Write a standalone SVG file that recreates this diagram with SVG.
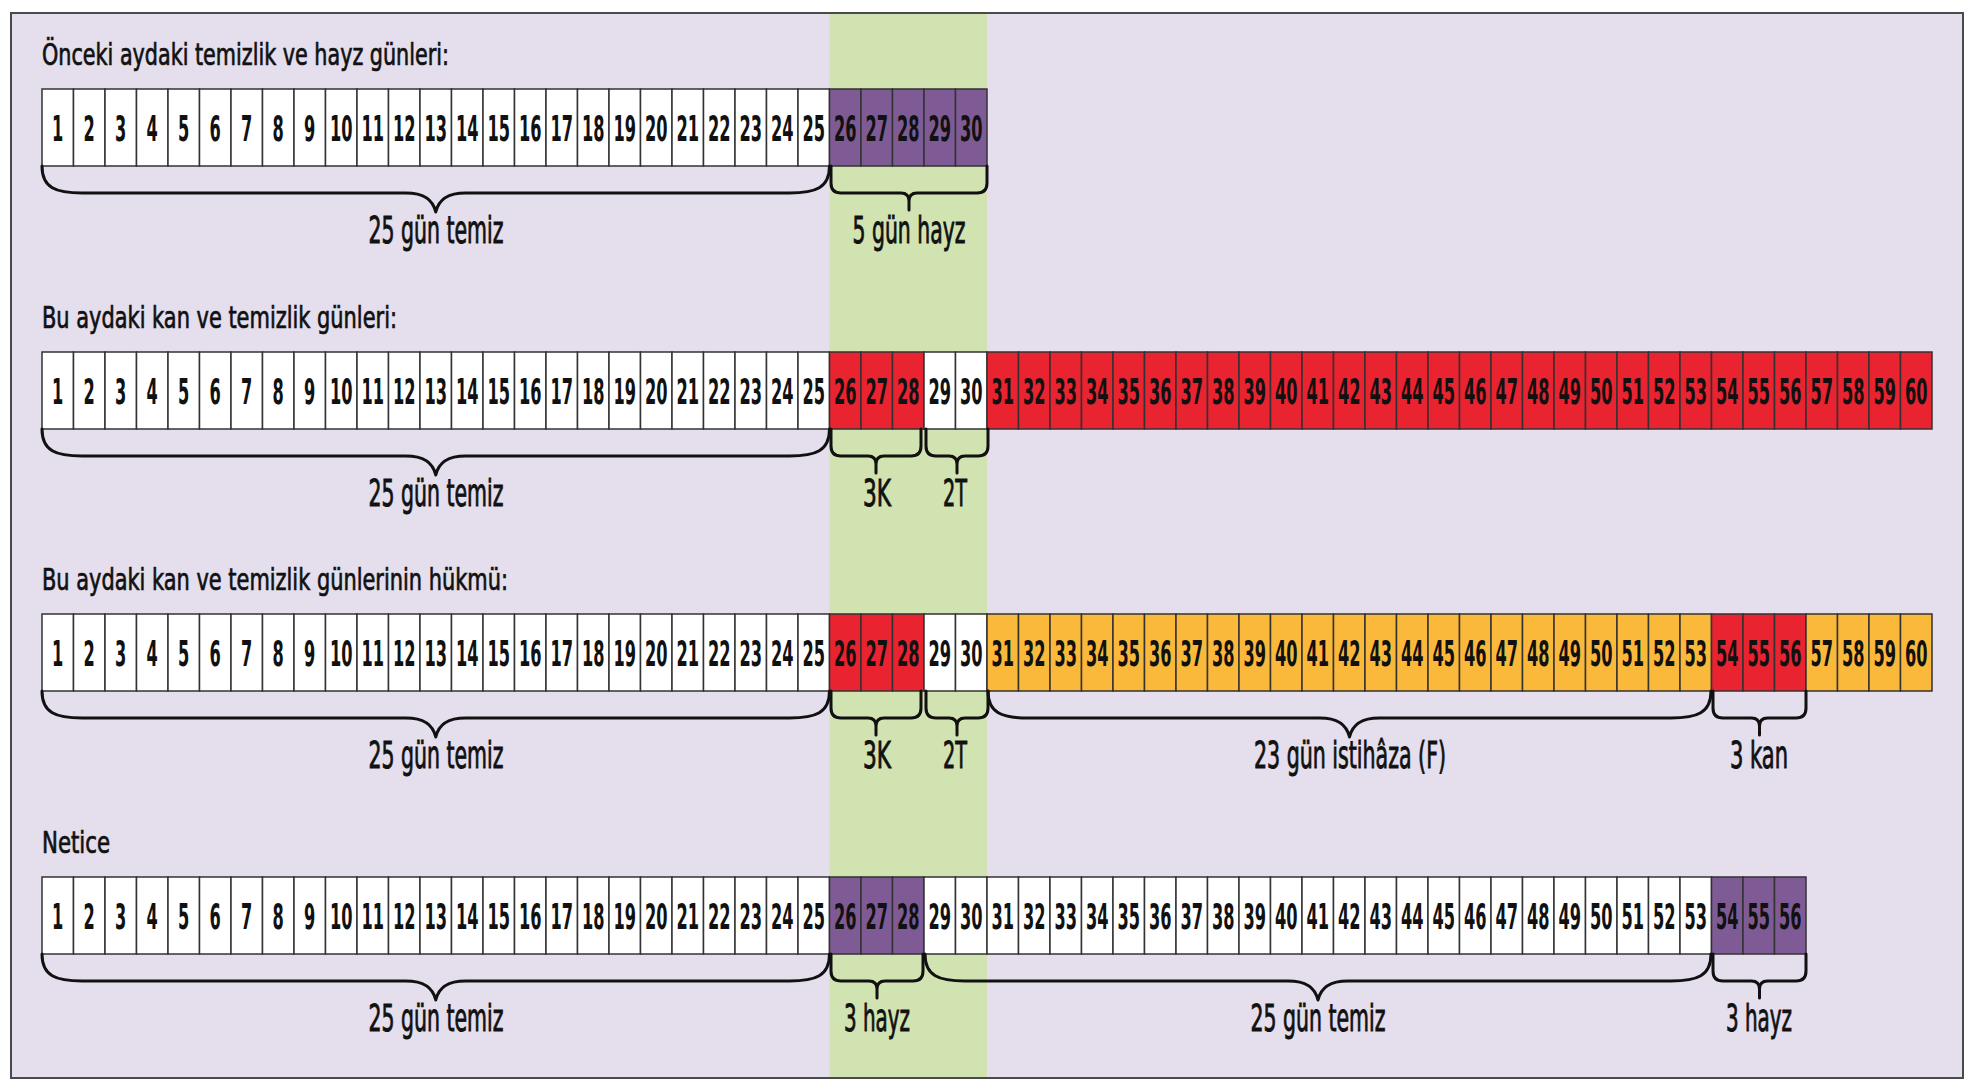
<svg xmlns="http://www.w3.org/2000/svg" width="1972" height="1088" viewBox="0 0 1972 1088">
<style>
text{font-family:'DejaVu Sans Condensed','DejaVu Sans',sans-serif;font-stretch:condensed;fill:#111}
.n{font-size:18px;text-anchor:middle;font-weight:bold}
.y1{transform:matrix(1,0,0,2,0,-141)}
.y2{transform:matrix(1,0,0,2,0,-404)}
.y3{transform:matrix(1,0,0,2,0,-666)}
.y4{transform:matrix(1,0,0,2,0,-929)}
.t{font-size:30px;stroke:#111;stroke-width:0.7}
.l{font-size:38px;text-anchor:middle;stroke:#111;stroke-width:0.9}
rect.c{stroke:#333;stroke-width:1.5}
.w{fill:#fff}.p{fill:#7f5b95}.r{fill:#e92330}.o{fill:#fbb93b}
.b{fill:none;stroke:#111;stroke-width:3;stroke-linecap:round;stroke-linejoin:round}
</style>
<rect x="11" y="13" width="1952" height="1065" fill="#e4deed"/>
<rect x="829.5" y="13" width="157.5" height="1065" fill="#d2e3b2"/>
<rect x="11" y="13" width="1952" height="1065" fill="none" stroke="#4a4a4a" stroke-width="2"/>
<g id="titles">
<text class="t" x="42" y="65" textLength="407" lengthAdjust="spacingAndGlyphs">Önceki aydaki temizlik ve hayz günleri:</text>
<text class="t" x="42" y="328" textLength="355" lengthAdjust="spacingAndGlyphs">Bu aydaki kan ve temizlik günleri:</text>
<text class="t" x="42" y="590" textLength="466" lengthAdjust="spacingAndGlyphs">Bu aydaki kan ve temizlik günlerinin hükmü:</text>
<text class="t" x="42" y="853" textLength="68" lengthAdjust="spacingAndGlyphs">Netice</text>
</g>
<g id="row1">
<g id="r1c1"><rect class="c w" x="42" y="89" width="31.5" height="77"/><text class="n y1" x="57.75" y="141">1</text></g>
<g id="r1c2"><rect class="c w" x="73.5" y="89" width="31.5" height="77"/><text class="n y1" x="89.25" y="141">2</text></g>
<g id="r1c3"><rect class="c w" x="105" y="89" width="31.5" height="77"/><text class="n y1" x="120.75" y="141">3</text></g>
<g id="r1c4"><rect class="c w" x="136.5" y="89" width="31.5" height="77"/><text class="n y1" x="152.25" y="141">4</text></g>
<g id="r1c5"><rect class="c w" x="168" y="89" width="31.5" height="77"/><text class="n y1" x="183.75" y="141">5</text></g>
<g id="r1c6"><rect class="c w" x="199.5" y="89" width="31.5" height="77"/><text class="n y1" x="215.25" y="141">6</text></g>
<g id="r1c7"><rect class="c w" x="231" y="89" width="31.5" height="77"/><text class="n y1" x="246.75" y="141">7</text></g>
<g id="r1c8"><rect class="c w" x="262.5" y="89" width="31.5" height="77"/><text class="n y1" x="278.25" y="141">8</text></g>
<g id="r1c9"><rect class="c w" x="294" y="89" width="31.5" height="77"/><text class="n y1" x="309.75" y="141">9</text></g>
<g id="r1c10"><rect class="c w" x="325.5" y="89" width="31.5" height="77"/><text class="n y1" x="341.25" y="141">10</text></g>
<g id="r1c11"><rect class="c w" x="357" y="89" width="31.5" height="77"/><text class="n y1" x="372.75" y="141">11</text></g>
<g id="r1c12"><rect class="c w" x="388.5" y="89" width="31.5" height="77"/><text class="n y1" x="404.25" y="141">12</text></g>
<g id="r1c13"><rect class="c w" x="420" y="89" width="31.5" height="77"/><text class="n y1" x="435.75" y="141">13</text></g>
<g id="r1c14"><rect class="c w" x="451.5" y="89" width="31.5" height="77"/><text class="n y1" x="467.25" y="141">14</text></g>
<g id="r1c15"><rect class="c w" x="483" y="89" width="31.5" height="77"/><text class="n y1" x="498.75" y="141">15</text></g>
<g id="r1c16"><rect class="c w" x="514.5" y="89" width="31.5" height="77"/><text class="n y1" x="530.25" y="141">16</text></g>
<g id="r1c17"><rect class="c w" x="546" y="89" width="31.5" height="77"/><text class="n y1" x="561.75" y="141">17</text></g>
<g id="r1c18"><rect class="c w" x="577.5" y="89" width="31.5" height="77"/><text class="n y1" x="593.25" y="141">18</text></g>
<g id="r1c19"><rect class="c w" x="609" y="89" width="31.5" height="77"/><text class="n y1" x="624.75" y="141">19</text></g>
<g id="r1c20"><rect class="c w" x="640.5" y="89" width="31.5" height="77"/><text class="n y1" x="656.25" y="141">20</text></g>
<g id="r1c21"><rect class="c w" x="672" y="89" width="31.5" height="77"/><text class="n y1" x="687.75" y="141">21</text></g>
<g id="r1c22"><rect class="c w" x="703.5" y="89" width="31.5" height="77"/><text class="n y1" x="719.25" y="141">22</text></g>
<g id="r1c23"><rect class="c w" x="735" y="89" width="31.5" height="77"/><text class="n y1" x="750.75" y="141">23</text></g>
<g id="r1c24"><rect class="c w" x="766.5" y="89" width="31.5" height="77"/><text class="n y1" x="782.25" y="141">24</text></g>
<g id="r1c25"><rect class="c w" x="798" y="89" width="31.5" height="77"/><text class="n y1" x="813.75" y="141">25</text></g>
<g id="r1c26"><rect class="c p" x="829.5" y="89" width="31.5" height="77"/><text class="n y1" x="845.25" y="141">26</text></g>
<g id="r1c27"><rect class="c p" x="861" y="89" width="31.5" height="77"/><text class="n y1" x="876.75" y="141">27</text></g>
<g id="r1c28"><rect class="c p" x="892.5" y="89" width="31.5" height="77"/><text class="n y1" x="908.25" y="141">28</text></g>
<g id="r1c29"><rect class="c p" x="924" y="89" width="31.5" height="77"/><text class="n y1" x="939.75" y="141">29</text></g>
<g id="r1c30"><rect class="c p" x="955.5" y="89" width="31.5" height="77"/><text class="n y1" x="971.25" y="141">30</text></g>
</g>
<g id="row2">
<g id="r2c1"><rect class="c w" x="42" y="352" width="31.5" height="77"/><text class="n y2" x="57.75" y="404">1</text></g>
<g id="r2c2"><rect class="c w" x="73.5" y="352" width="31.5" height="77"/><text class="n y2" x="89.25" y="404">2</text></g>
<g id="r2c3"><rect class="c w" x="105" y="352" width="31.5" height="77"/><text class="n y2" x="120.75" y="404">3</text></g>
<g id="r2c4"><rect class="c w" x="136.5" y="352" width="31.5" height="77"/><text class="n y2" x="152.25" y="404">4</text></g>
<g id="r2c5"><rect class="c w" x="168" y="352" width="31.5" height="77"/><text class="n y2" x="183.75" y="404">5</text></g>
<g id="r2c6"><rect class="c w" x="199.5" y="352" width="31.5" height="77"/><text class="n y2" x="215.25" y="404">6</text></g>
<g id="r2c7"><rect class="c w" x="231" y="352" width="31.5" height="77"/><text class="n y2" x="246.75" y="404">7</text></g>
<g id="r2c8"><rect class="c w" x="262.5" y="352" width="31.5" height="77"/><text class="n y2" x="278.25" y="404">8</text></g>
<g id="r2c9"><rect class="c w" x="294" y="352" width="31.5" height="77"/><text class="n y2" x="309.75" y="404">9</text></g>
<g id="r2c10"><rect class="c w" x="325.5" y="352" width="31.5" height="77"/><text class="n y2" x="341.25" y="404">10</text></g>
<g id="r2c11"><rect class="c w" x="357" y="352" width="31.5" height="77"/><text class="n y2" x="372.75" y="404">11</text></g>
<g id="r2c12"><rect class="c w" x="388.5" y="352" width="31.5" height="77"/><text class="n y2" x="404.25" y="404">12</text></g>
<g id="r2c13"><rect class="c w" x="420" y="352" width="31.5" height="77"/><text class="n y2" x="435.75" y="404">13</text></g>
<g id="r2c14"><rect class="c w" x="451.5" y="352" width="31.5" height="77"/><text class="n y2" x="467.25" y="404">14</text></g>
<g id="r2c15"><rect class="c w" x="483" y="352" width="31.5" height="77"/><text class="n y2" x="498.75" y="404">15</text></g>
<g id="r2c16"><rect class="c w" x="514.5" y="352" width="31.5" height="77"/><text class="n y2" x="530.25" y="404">16</text></g>
<g id="r2c17"><rect class="c w" x="546" y="352" width="31.5" height="77"/><text class="n y2" x="561.75" y="404">17</text></g>
<g id="r2c18"><rect class="c w" x="577.5" y="352" width="31.5" height="77"/><text class="n y2" x="593.25" y="404">18</text></g>
<g id="r2c19"><rect class="c w" x="609" y="352" width="31.5" height="77"/><text class="n y2" x="624.75" y="404">19</text></g>
<g id="r2c20"><rect class="c w" x="640.5" y="352" width="31.5" height="77"/><text class="n y2" x="656.25" y="404">20</text></g>
<g id="r2c21"><rect class="c w" x="672" y="352" width="31.5" height="77"/><text class="n y2" x="687.75" y="404">21</text></g>
<g id="r2c22"><rect class="c w" x="703.5" y="352" width="31.5" height="77"/><text class="n y2" x="719.25" y="404">22</text></g>
<g id="r2c23"><rect class="c w" x="735" y="352" width="31.5" height="77"/><text class="n y2" x="750.75" y="404">23</text></g>
<g id="r2c24"><rect class="c w" x="766.5" y="352" width="31.5" height="77"/><text class="n y2" x="782.25" y="404">24</text></g>
<g id="r2c25"><rect class="c w" x="798" y="352" width="31.5" height="77"/><text class="n y2" x="813.75" y="404">25</text></g>
<g id="r2c26"><rect class="c r" x="829.5" y="352" width="31.5" height="77"/><text class="n y2" x="845.25" y="404">26</text></g>
<g id="r2c27"><rect class="c r" x="861" y="352" width="31.5" height="77"/><text class="n y2" x="876.75" y="404">27</text></g>
<g id="r2c28"><rect class="c r" x="892.5" y="352" width="31.5" height="77"/><text class="n y2" x="908.25" y="404">28</text></g>
<g id="r2c29"><rect class="c w" x="924" y="352" width="31.5" height="77"/><text class="n y2" x="939.75" y="404">29</text></g>
<g id="r2c30"><rect class="c w" x="955.5" y="352" width="31.5" height="77"/><text class="n y2" x="971.25" y="404">30</text></g>
<g id="r2c31"><rect class="c r" x="987" y="352" width="31.5" height="77"/><text class="n y2" x="1002.75" y="404">31</text></g>
<g id="r2c32"><rect class="c r" x="1018.5" y="352" width="31.5" height="77"/><text class="n y2" x="1034.25" y="404">32</text></g>
<g id="r2c33"><rect class="c r" x="1050" y="352" width="31.5" height="77"/><text class="n y2" x="1065.75" y="404">33</text></g>
<g id="r2c34"><rect class="c r" x="1081.5" y="352" width="31.5" height="77"/><text class="n y2" x="1097.25" y="404">34</text></g>
<g id="r2c35"><rect class="c r" x="1113" y="352" width="31.5" height="77"/><text class="n y2" x="1128.75" y="404">35</text></g>
<g id="r2c36"><rect class="c r" x="1144.5" y="352" width="31.5" height="77"/><text class="n y2" x="1160.25" y="404">36</text></g>
<g id="r2c37"><rect class="c r" x="1176" y="352" width="31.5" height="77"/><text class="n y2" x="1191.75" y="404">37</text></g>
<g id="r2c38"><rect class="c r" x="1207.5" y="352" width="31.5" height="77"/><text class="n y2" x="1223.25" y="404">38</text></g>
<g id="r2c39"><rect class="c r" x="1239" y="352" width="31.5" height="77"/><text class="n y2" x="1254.75" y="404">39</text></g>
<g id="r2c40"><rect class="c r" x="1270.5" y="352" width="31.5" height="77"/><text class="n y2" x="1286.25" y="404">40</text></g>
<g id="r2c41"><rect class="c r" x="1302" y="352" width="31.5" height="77"/><text class="n y2" x="1317.75" y="404">41</text></g>
<g id="r2c42"><rect class="c r" x="1333.5" y="352" width="31.5" height="77"/><text class="n y2" x="1349.25" y="404">42</text></g>
<g id="r2c43"><rect class="c r" x="1365" y="352" width="31.5" height="77"/><text class="n y2" x="1380.75" y="404">43</text></g>
<g id="r2c44"><rect class="c r" x="1396.5" y="352" width="31.5" height="77"/><text class="n y2" x="1412.25" y="404">44</text></g>
<g id="r2c45"><rect class="c r" x="1428" y="352" width="31.5" height="77"/><text class="n y2" x="1443.75" y="404">45</text></g>
<g id="r2c46"><rect class="c r" x="1459.5" y="352" width="31.5" height="77"/><text class="n y2" x="1475.25" y="404">46</text></g>
<g id="r2c47"><rect class="c r" x="1491" y="352" width="31.5" height="77"/><text class="n y2" x="1506.75" y="404">47</text></g>
<g id="r2c48"><rect class="c r" x="1522.5" y="352" width="31.5" height="77"/><text class="n y2" x="1538.25" y="404">48</text></g>
<g id="r2c49"><rect class="c r" x="1554" y="352" width="31.5" height="77"/><text class="n y2" x="1569.75" y="404">49</text></g>
<g id="r2c50"><rect class="c r" x="1585.5" y="352" width="31.5" height="77"/><text class="n y2" x="1601.25" y="404">50</text></g>
<g id="r2c51"><rect class="c r" x="1617" y="352" width="31.5" height="77"/><text class="n y2" x="1632.75" y="404">51</text></g>
<g id="r2c52"><rect class="c r" x="1648.5" y="352" width="31.5" height="77"/><text class="n y2" x="1664.25" y="404">52</text></g>
<g id="r2c53"><rect class="c r" x="1680" y="352" width="31.5" height="77"/><text class="n y2" x="1695.75" y="404">53</text></g>
<g id="r2c54"><rect class="c r" x="1711.5" y="352" width="31.5" height="77"/><text class="n y2" x="1727.25" y="404">54</text></g>
<g id="r2c55"><rect class="c r" x="1743" y="352" width="31.5" height="77"/><text class="n y2" x="1758.75" y="404">55</text></g>
<g id="r2c56"><rect class="c r" x="1774.5" y="352" width="31.5" height="77"/><text class="n y2" x="1790.25" y="404">56</text></g>
<g id="r2c57"><rect class="c r" x="1806" y="352" width="31.5" height="77"/><text class="n y2" x="1821.75" y="404">57</text></g>
<g id="r2c58"><rect class="c r" x="1837.5" y="352" width="31.5" height="77"/><text class="n y2" x="1853.25" y="404">58</text></g>
<g id="r2c59"><rect class="c r" x="1869" y="352" width="31.5" height="77"/><text class="n y2" x="1884.75" y="404">59</text></g>
<g id="r2c60"><rect class="c r" x="1900.5" y="352" width="31.5" height="77"/><text class="n y2" x="1916.25" y="404">60</text></g>
</g>
<g id="row3">
<g id="r3c1"><rect class="c w" x="42" y="614" width="31.5" height="77"/><text class="n y3" x="57.75" y="666">1</text></g>
<g id="r3c2"><rect class="c w" x="73.5" y="614" width="31.5" height="77"/><text class="n y3" x="89.25" y="666">2</text></g>
<g id="r3c3"><rect class="c w" x="105" y="614" width="31.5" height="77"/><text class="n y3" x="120.75" y="666">3</text></g>
<g id="r3c4"><rect class="c w" x="136.5" y="614" width="31.5" height="77"/><text class="n y3" x="152.25" y="666">4</text></g>
<g id="r3c5"><rect class="c w" x="168" y="614" width="31.5" height="77"/><text class="n y3" x="183.75" y="666">5</text></g>
<g id="r3c6"><rect class="c w" x="199.5" y="614" width="31.5" height="77"/><text class="n y3" x="215.25" y="666">6</text></g>
<g id="r3c7"><rect class="c w" x="231" y="614" width="31.5" height="77"/><text class="n y3" x="246.75" y="666">7</text></g>
<g id="r3c8"><rect class="c w" x="262.5" y="614" width="31.5" height="77"/><text class="n y3" x="278.25" y="666">8</text></g>
<g id="r3c9"><rect class="c w" x="294" y="614" width="31.5" height="77"/><text class="n y3" x="309.75" y="666">9</text></g>
<g id="r3c10"><rect class="c w" x="325.5" y="614" width="31.5" height="77"/><text class="n y3" x="341.25" y="666">10</text></g>
<g id="r3c11"><rect class="c w" x="357" y="614" width="31.5" height="77"/><text class="n y3" x="372.75" y="666">11</text></g>
<g id="r3c12"><rect class="c w" x="388.5" y="614" width="31.5" height="77"/><text class="n y3" x="404.25" y="666">12</text></g>
<g id="r3c13"><rect class="c w" x="420" y="614" width="31.5" height="77"/><text class="n y3" x="435.75" y="666">13</text></g>
<g id="r3c14"><rect class="c w" x="451.5" y="614" width="31.5" height="77"/><text class="n y3" x="467.25" y="666">14</text></g>
<g id="r3c15"><rect class="c w" x="483" y="614" width="31.5" height="77"/><text class="n y3" x="498.75" y="666">15</text></g>
<g id="r3c16"><rect class="c w" x="514.5" y="614" width="31.5" height="77"/><text class="n y3" x="530.25" y="666">16</text></g>
<g id="r3c17"><rect class="c w" x="546" y="614" width="31.5" height="77"/><text class="n y3" x="561.75" y="666">17</text></g>
<g id="r3c18"><rect class="c w" x="577.5" y="614" width="31.5" height="77"/><text class="n y3" x="593.25" y="666">18</text></g>
<g id="r3c19"><rect class="c w" x="609" y="614" width="31.5" height="77"/><text class="n y3" x="624.75" y="666">19</text></g>
<g id="r3c20"><rect class="c w" x="640.5" y="614" width="31.5" height="77"/><text class="n y3" x="656.25" y="666">20</text></g>
<g id="r3c21"><rect class="c w" x="672" y="614" width="31.5" height="77"/><text class="n y3" x="687.75" y="666">21</text></g>
<g id="r3c22"><rect class="c w" x="703.5" y="614" width="31.5" height="77"/><text class="n y3" x="719.25" y="666">22</text></g>
<g id="r3c23"><rect class="c w" x="735" y="614" width="31.5" height="77"/><text class="n y3" x="750.75" y="666">23</text></g>
<g id="r3c24"><rect class="c w" x="766.5" y="614" width="31.5" height="77"/><text class="n y3" x="782.25" y="666">24</text></g>
<g id="r3c25"><rect class="c w" x="798" y="614" width="31.5" height="77"/><text class="n y3" x="813.75" y="666">25</text></g>
<g id="r3c26"><rect class="c r" x="829.5" y="614" width="31.5" height="77"/><text class="n y3" x="845.25" y="666">26</text></g>
<g id="r3c27"><rect class="c r" x="861" y="614" width="31.5" height="77"/><text class="n y3" x="876.75" y="666">27</text></g>
<g id="r3c28"><rect class="c r" x="892.5" y="614" width="31.5" height="77"/><text class="n y3" x="908.25" y="666">28</text></g>
<g id="r3c29"><rect class="c w" x="924" y="614" width="31.5" height="77"/><text class="n y3" x="939.75" y="666">29</text></g>
<g id="r3c30"><rect class="c w" x="955.5" y="614" width="31.5" height="77"/><text class="n y3" x="971.25" y="666">30</text></g>
<g id="r3c31"><rect class="c o" x="987" y="614" width="31.5" height="77"/><text class="n y3" x="1002.75" y="666">31</text></g>
<g id="r3c32"><rect class="c o" x="1018.5" y="614" width="31.5" height="77"/><text class="n y3" x="1034.25" y="666">32</text></g>
<g id="r3c33"><rect class="c o" x="1050" y="614" width="31.5" height="77"/><text class="n y3" x="1065.75" y="666">33</text></g>
<g id="r3c34"><rect class="c o" x="1081.5" y="614" width="31.5" height="77"/><text class="n y3" x="1097.25" y="666">34</text></g>
<g id="r3c35"><rect class="c o" x="1113" y="614" width="31.5" height="77"/><text class="n y3" x="1128.75" y="666">35</text></g>
<g id="r3c36"><rect class="c o" x="1144.5" y="614" width="31.5" height="77"/><text class="n y3" x="1160.25" y="666">36</text></g>
<g id="r3c37"><rect class="c o" x="1176" y="614" width="31.5" height="77"/><text class="n y3" x="1191.75" y="666">37</text></g>
<g id="r3c38"><rect class="c o" x="1207.5" y="614" width="31.5" height="77"/><text class="n y3" x="1223.25" y="666">38</text></g>
<g id="r3c39"><rect class="c o" x="1239" y="614" width="31.5" height="77"/><text class="n y3" x="1254.75" y="666">39</text></g>
<g id="r3c40"><rect class="c o" x="1270.5" y="614" width="31.5" height="77"/><text class="n y3" x="1286.25" y="666">40</text></g>
<g id="r3c41"><rect class="c o" x="1302" y="614" width="31.5" height="77"/><text class="n y3" x="1317.75" y="666">41</text></g>
<g id="r3c42"><rect class="c o" x="1333.5" y="614" width="31.5" height="77"/><text class="n y3" x="1349.25" y="666">42</text></g>
<g id="r3c43"><rect class="c o" x="1365" y="614" width="31.5" height="77"/><text class="n y3" x="1380.75" y="666">43</text></g>
<g id="r3c44"><rect class="c o" x="1396.5" y="614" width="31.5" height="77"/><text class="n y3" x="1412.25" y="666">44</text></g>
<g id="r3c45"><rect class="c o" x="1428" y="614" width="31.5" height="77"/><text class="n y3" x="1443.75" y="666">45</text></g>
<g id="r3c46"><rect class="c o" x="1459.5" y="614" width="31.5" height="77"/><text class="n y3" x="1475.25" y="666">46</text></g>
<g id="r3c47"><rect class="c o" x="1491" y="614" width="31.5" height="77"/><text class="n y3" x="1506.75" y="666">47</text></g>
<g id="r3c48"><rect class="c o" x="1522.5" y="614" width="31.5" height="77"/><text class="n y3" x="1538.25" y="666">48</text></g>
<g id="r3c49"><rect class="c o" x="1554" y="614" width="31.5" height="77"/><text class="n y3" x="1569.75" y="666">49</text></g>
<g id="r3c50"><rect class="c o" x="1585.5" y="614" width="31.5" height="77"/><text class="n y3" x="1601.25" y="666">50</text></g>
<g id="r3c51"><rect class="c o" x="1617" y="614" width="31.5" height="77"/><text class="n y3" x="1632.75" y="666">51</text></g>
<g id="r3c52"><rect class="c o" x="1648.5" y="614" width="31.5" height="77"/><text class="n y3" x="1664.25" y="666">52</text></g>
<g id="r3c53"><rect class="c o" x="1680" y="614" width="31.5" height="77"/><text class="n y3" x="1695.75" y="666">53</text></g>
<g id="r3c54"><rect class="c r" x="1711.5" y="614" width="31.5" height="77"/><text class="n y3" x="1727.25" y="666">54</text></g>
<g id="r3c55"><rect class="c r" x="1743" y="614" width="31.5" height="77"/><text class="n y3" x="1758.75" y="666">55</text></g>
<g id="r3c56"><rect class="c r" x="1774.5" y="614" width="31.5" height="77"/><text class="n y3" x="1790.25" y="666">56</text></g>
<g id="r3c57"><rect class="c o" x="1806" y="614" width="31.5" height="77"/><text class="n y3" x="1821.75" y="666">57</text></g>
<g id="r3c58"><rect class="c o" x="1837.5" y="614" width="31.5" height="77"/><text class="n y3" x="1853.25" y="666">58</text></g>
<g id="r3c59"><rect class="c o" x="1869" y="614" width="31.5" height="77"/><text class="n y3" x="1884.75" y="666">59</text></g>
<g id="r3c60"><rect class="c o" x="1900.5" y="614" width="31.5" height="77"/><text class="n y3" x="1916.25" y="666">60</text></g>
</g>
<g id="row4">
<g id="r4c1"><rect class="c w" x="42" y="877" width="31.5" height="77"/><text class="n y4" x="57.75" y="929">1</text></g>
<g id="r4c2"><rect class="c w" x="73.5" y="877" width="31.5" height="77"/><text class="n y4" x="89.25" y="929">2</text></g>
<g id="r4c3"><rect class="c w" x="105" y="877" width="31.5" height="77"/><text class="n y4" x="120.75" y="929">3</text></g>
<g id="r4c4"><rect class="c w" x="136.5" y="877" width="31.5" height="77"/><text class="n y4" x="152.25" y="929">4</text></g>
<g id="r4c5"><rect class="c w" x="168" y="877" width="31.5" height="77"/><text class="n y4" x="183.75" y="929">5</text></g>
<g id="r4c6"><rect class="c w" x="199.5" y="877" width="31.5" height="77"/><text class="n y4" x="215.25" y="929">6</text></g>
<g id="r4c7"><rect class="c w" x="231" y="877" width="31.5" height="77"/><text class="n y4" x="246.75" y="929">7</text></g>
<g id="r4c8"><rect class="c w" x="262.5" y="877" width="31.5" height="77"/><text class="n y4" x="278.25" y="929">8</text></g>
<g id="r4c9"><rect class="c w" x="294" y="877" width="31.5" height="77"/><text class="n y4" x="309.75" y="929">9</text></g>
<g id="r4c10"><rect class="c w" x="325.5" y="877" width="31.5" height="77"/><text class="n y4" x="341.25" y="929">10</text></g>
<g id="r4c11"><rect class="c w" x="357" y="877" width="31.5" height="77"/><text class="n y4" x="372.75" y="929">11</text></g>
<g id="r4c12"><rect class="c w" x="388.5" y="877" width="31.5" height="77"/><text class="n y4" x="404.25" y="929">12</text></g>
<g id="r4c13"><rect class="c w" x="420" y="877" width="31.5" height="77"/><text class="n y4" x="435.75" y="929">13</text></g>
<g id="r4c14"><rect class="c w" x="451.5" y="877" width="31.5" height="77"/><text class="n y4" x="467.25" y="929">14</text></g>
<g id="r4c15"><rect class="c w" x="483" y="877" width="31.5" height="77"/><text class="n y4" x="498.75" y="929">15</text></g>
<g id="r4c16"><rect class="c w" x="514.5" y="877" width="31.5" height="77"/><text class="n y4" x="530.25" y="929">16</text></g>
<g id="r4c17"><rect class="c w" x="546" y="877" width="31.5" height="77"/><text class="n y4" x="561.75" y="929">17</text></g>
<g id="r4c18"><rect class="c w" x="577.5" y="877" width="31.5" height="77"/><text class="n y4" x="593.25" y="929">18</text></g>
<g id="r4c19"><rect class="c w" x="609" y="877" width="31.5" height="77"/><text class="n y4" x="624.75" y="929">19</text></g>
<g id="r4c20"><rect class="c w" x="640.5" y="877" width="31.5" height="77"/><text class="n y4" x="656.25" y="929">20</text></g>
<g id="r4c21"><rect class="c w" x="672" y="877" width="31.5" height="77"/><text class="n y4" x="687.75" y="929">21</text></g>
<g id="r4c22"><rect class="c w" x="703.5" y="877" width="31.5" height="77"/><text class="n y4" x="719.25" y="929">22</text></g>
<g id="r4c23"><rect class="c w" x="735" y="877" width="31.5" height="77"/><text class="n y4" x="750.75" y="929">23</text></g>
<g id="r4c24"><rect class="c w" x="766.5" y="877" width="31.5" height="77"/><text class="n y4" x="782.25" y="929">24</text></g>
<g id="r4c25"><rect class="c w" x="798" y="877" width="31.5" height="77"/><text class="n y4" x="813.75" y="929">25</text></g>
<g id="r4c26"><rect class="c p" x="829.5" y="877" width="31.5" height="77"/><text class="n y4" x="845.25" y="929">26</text></g>
<g id="r4c27"><rect class="c p" x="861" y="877" width="31.5" height="77"/><text class="n y4" x="876.75" y="929">27</text></g>
<g id="r4c28"><rect class="c p" x="892.5" y="877" width="31.5" height="77"/><text class="n y4" x="908.25" y="929">28</text></g>
<g id="r4c29"><rect class="c w" x="924" y="877" width="31.5" height="77"/><text class="n y4" x="939.75" y="929">29</text></g>
<g id="r4c30"><rect class="c w" x="955.5" y="877" width="31.5" height="77"/><text class="n y4" x="971.25" y="929">30</text></g>
<g id="r4c31"><rect class="c w" x="987" y="877" width="31.5" height="77"/><text class="n y4" x="1002.75" y="929">31</text></g>
<g id="r4c32"><rect class="c w" x="1018.5" y="877" width="31.5" height="77"/><text class="n y4" x="1034.25" y="929">32</text></g>
<g id="r4c33"><rect class="c w" x="1050" y="877" width="31.5" height="77"/><text class="n y4" x="1065.75" y="929">33</text></g>
<g id="r4c34"><rect class="c w" x="1081.5" y="877" width="31.5" height="77"/><text class="n y4" x="1097.25" y="929">34</text></g>
<g id="r4c35"><rect class="c w" x="1113" y="877" width="31.5" height="77"/><text class="n y4" x="1128.75" y="929">35</text></g>
<g id="r4c36"><rect class="c w" x="1144.5" y="877" width="31.5" height="77"/><text class="n y4" x="1160.25" y="929">36</text></g>
<g id="r4c37"><rect class="c w" x="1176" y="877" width="31.5" height="77"/><text class="n y4" x="1191.75" y="929">37</text></g>
<g id="r4c38"><rect class="c w" x="1207.5" y="877" width="31.5" height="77"/><text class="n y4" x="1223.25" y="929">38</text></g>
<g id="r4c39"><rect class="c w" x="1239" y="877" width="31.5" height="77"/><text class="n y4" x="1254.75" y="929">39</text></g>
<g id="r4c40"><rect class="c w" x="1270.5" y="877" width="31.5" height="77"/><text class="n y4" x="1286.25" y="929">40</text></g>
<g id="r4c41"><rect class="c w" x="1302" y="877" width="31.5" height="77"/><text class="n y4" x="1317.75" y="929">41</text></g>
<g id="r4c42"><rect class="c w" x="1333.5" y="877" width="31.5" height="77"/><text class="n y4" x="1349.25" y="929">42</text></g>
<g id="r4c43"><rect class="c w" x="1365" y="877" width="31.5" height="77"/><text class="n y4" x="1380.75" y="929">43</text></g>
<g id="r4c44"><rect class="c w" x="1396.5" y="877" width="31.5" height="77"/><text class="n y4" x="1412.25" y="929">44</text></g>
<g id="r4c45"><rect class="c w" x="1428" y="877" width="31.5" height="77"/><text class="n y4" x="1443.75" y="929">45</text></g>
<g id="r4c46"><rect class="c w" x="1459.5" y="877" width="31.5" height="77"/><text class="n y4" x="1475.25" y="929">46</text></g>
<g id="r4c47"><rect class="c w" x="1491" y="877" width="31.5" height="77"/><text class="n y4" x="1506.75" y="929">47</text></g>
<g id="r4c48"><rect class="c w" x="1522.5" y="877" width="31.5" height="77"/><text class="n y4" x="1538.25" y="929">48</text></g>
<g id="r4c49"><rect class="c w" x="1554" y="877" width="31.5" height="77"/><text class="n y4" x="1569.75" y="929">49</text></g>
<g id="r4c50"><rect class="c w" x="1585.5" y="877" width="31.5" height="77"/><text class="n y4" x="1601.25" y="929">50</text></g>
<g id="r4c51"><rect class="c w" x="1617" y="877" width="31.5" height="77"/><text class="n y4" x="1632.75" y="929">51</text></g>
<g id="r4c52"><rect class="c w" x="1648.5" y="877" width="31.5" height="77"/><text class="n y4" x="1664.25" y="929">52</text></g>
<g id="r4c53"><rect class="c w" x="1680" y="877" width="31.5" height="77"/><text class="n y4" x="1695.75" y="929">53</text></g>
<g id="r4c54"><rect class="c p" x="1711.5" y="877" width="31.5" height="77"/><text class="n y4" x="1727.25" y="929">54</text></g>
<g id="r4c55"><rect class="c p" x="1743" y="877" width="31.5" height="77"/><text class="n y4" x="1758.75" y="929">55</text></g>
<g id="r4c56"><rect class="c p" x="1774.5" y="877" width="31.5" height="77"/><text class="n y4" x="1790.25" y="929">56</text></g>
</g>
<g id="connectors">
<path class="b" d="M42 166 C42 188 56 193 82 193 L405.75 193 C423.75 193 432.75 199 435.75 212 C438.75 199 447.75 193 465.75 193 L789.5 193 C815.5 193 829.5 188 829.5 166"/>
<path class="b" d="M831 166 L831 183 Q831 193 841 193 L901 193 Q909 193 909 201 L909 210 M909 201 Q909 193 917 193 L977 193 Q987 193 987 183 L987 166"/>
<path class="b" d="M42 429 C42 451 56 456 82 456 L405.75 456 C423.75 456 432.75 462 435.75 475 C438.75 462 447.75 456 465.75 456 L789.5 456 C815.5 456 829.5 451 829.5 429"/>
<path class="b" d="M831 429 L831 446 Q831 456 841 456 L868 456 Q876 456 876 464 L876 473 M876 464 Q876 456 884 456 L911 456 Q921 456 921 446 L921 429"/>
<path class="b" d="M926 429 L926 446 Q926 456 936 456 L949 456 Q957 456 957 464 L957 473 M957 464 Q957 456 965 456 L978 456 Q988 456 988 446 L988 429"/>
<path class="b" d="M42 691 C42 713 56 718 82 718 L405.75 718 C423.75 718 432.75 724 435.75 737 C438.75 724 447.75 718 465.75 718 L789.5 718 C815.5 718 829.5 713 829.5 691"/>
<path class="b" d="M831 691 L831 708 Q831 718 841 718 L868 718 Q876 718 876 726 L876 735 M876 726 Q876 718 884 718 L911 718 Q921 718 921 708 L921 691"/>
<path class="b" d="M926 691 L926 708 Q926 718 936 718 L949 718 Q957 718 957 726 L957 735 M957 726 Q957 718 965 718 L978 718 Q988 718 988 708 L988 691"/>
<path class="b" d="M988 691 C988 713 1002 718 1028 718 L1319.5 718 C1337.5 718 1346.5 724 1349.5 737 C1352.5 724 1361.5 718 1379.5 718 L1671 718 C1697 718 1711 713 1711 691"/>
<path class="b" d="M1713 691 L1713 708 Q1713 718 1723 718 L1751.5 718 Q1759.5 718 1759.5 726 L1759.5 735 M1759.5 726 Q1759.5 718 1767.5 718 L1796 718 Q1806 718 1806 708 L1806 691"/>
<path class="b" d="M42 954 C42 976 56 981 82 981 L405.75 981 C423.75 981 432.75 987 435.75 1000 C438.75 987 447.75 981 465.75 981 L789.5 981 C815.5 981 829.5 976 829.5 954"/>
<path class="b" d="M831 954 L831 971 Q831 981 841 981 L869 981 Q877 981 877 989 L877 998 M877 989 Q877 981 885 981 L913 981 Q923 981 923 971 L923 954"/>
<path class="b" d="M925 954 C925 976 939 981 965 981 L1288 981 C1306 981 1315 987 1318 1000 C1321 987 1330 981 1348 981 L1671 981 C1697 981 1711 976 1711 954"/>
<path class="b" d="M1713 954 L1713 971 Q1713 981 1723 981 L1751.5 981 Q1759.5 981 1759.5 989 L1759.5 998 M1759.5 989 Q1759.5 981 1767.5 981 L1796 981 Q1806 981 1806 971 L1806 954"/>
</g>
<g id="labels">
<text class="l" x="436" y="243" textLength="135" lengthAdjust="spacingAndGlyphs">25 gün temiz</text>
<text class="l" x="909" y="243" textLength="113" lengthAdjust="spacingAndGlyphs">5 gün hayz</text>
<text class="l" x="436" y="506" textLength="135" lengthAdjust="spacingAndGlyphs">25 gün temiz</text>
<text class="l" x="877" y="506" textLength="28" lengthAdjust="spacingAndGlyphs">3K</text>
<text class="l" x="955" y="506" textLength="24" lengthAdjust="spacingAndGlyphs">2T</text>
<text class="l" x="436" y="768" textLength="135" lengthAdjust="spacingAndGlyphs">25 gün temiz</text>
<text class="l" x="877" y="768" textLength="28" lengthAdjust="spacingAndGlyphs">3K</text>
<text class="l" x="955" y="768" textLength="24" lengthAdjust="spacingAndGlyphs">2T</text>
<text class="l" x="1350" y="768" textLength="192" lengthAdjust="spacingAndGlyphs">23 gün istihâza (F)</text>
<text class="l" x="1759" y="768" textLength="58" lengthAdjust="spacingAndGlyphs">3 kan</text>
<text class="l" x="436" y="1031" textLength="135" lengthAdjust="spacingAndGlyphs">25 gün temiz</text>
<text class="l" x="877" y="1031" textLength="66" lengthAdjust="spacingAndGlyphs">3 hayz</text>
<text class="l" x="1318" y="1031" textLength="135" lengthAdjust="spacingAndGlyphs">25 gün temiz</text>
<text class="l" x="1759" y="1031" textLength="66" lengthAdjust="spacingAndGlyphs">3 hayz</text>
</g>
</svg>
